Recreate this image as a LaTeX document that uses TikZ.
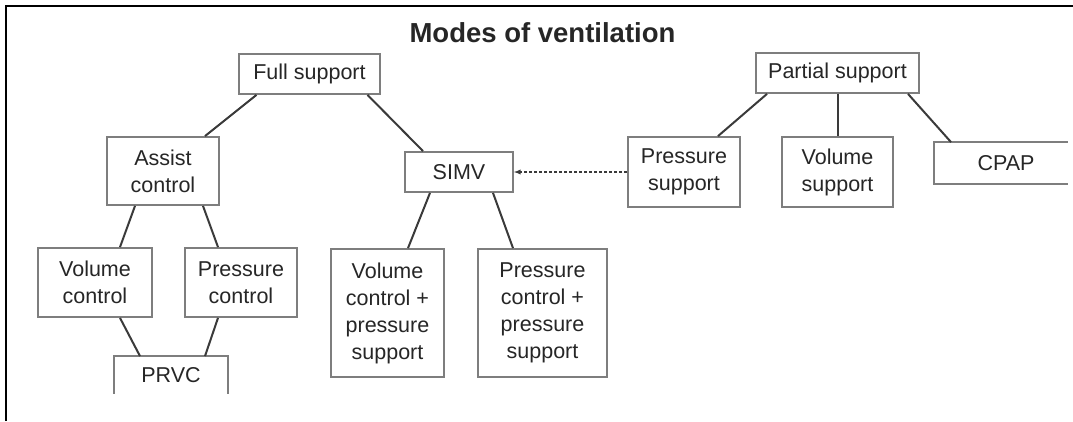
\documentclass[tikz,border=0pt]{standalone}
\usepackage{fontspec}
\setmainfont{Liberation Sans}
\usepackage{tikz}
\usetikzlibrary{calc}

\definecolor{boxgray}{HTML}{7E7E7E}
\definecolor{linkgray}{HTML}{3A3A3A}
\definecolor{inkgray}{HTML}{262626}

\tikzset{
  modebox/.style={draw=boxgray, line width=1.8pt, fill=white, align=center,
    inner sep=0pt, text=inkgray, font=\fontsize{21.5}{27}\selectfont},
  openbox/.style={modebox, draw=none},
  link/.style={draw=linkgray, line width=2pt},
}

\begin{document}
\begin{tikzpicture}[x=1pt, y=-1pt]
\useasboundingbox (0,0) rectangle (1073,421);
%frame and title
\draw [black, line width=2pt] (6,421) -- (6,6) -- (1073,6);
\node [anchor=base, text=inkgray, font=\fontsize{27.5}{30}\selectfont\bfseries] (title) at (542.5,42) {Modes of ventilation};

%full support side
\node [modebox, minimum width=141pt, minimum height=40pt] (full) at (309.5,74) {Full support};
\node [modebox, minimum width=112pt, minimum height=68pt] (assist) at (163,171) {Assist\\control};
\node [modebox, minimum width=108pt, minimum height=40pt] (simv) at (459,172) {SIMV};
\node [modebox, minimum width=114pt, minimum height=69pt] (vctl) at (95,282.5) {Volume\\control};
\node [modebox, minimum width=112pt, minimum height=69pt] (pctl) at (241,282.5) {Pressure\\control};
\node [openbox, minimum width=112pt, minimum height=36pt] (prvc) at (171,375) {PRVC};
\draw [draw=boxgray, line width=1.8pt] (prvc.south west) -- (prvc.north west) -- (prvc.north east) -- (prvc.south east);
\node [modebox, minimum width=113pt, minimum height=128pt] (vcps) at (387.5,313) {Volume\\control +\\pressure\\support};
\node [modebox, minimum width=129pt, minimum height=128pt] (pcps) at (542.5,313) {Pressure\\control +\\pressure\\support};

%partial support side
\node [modebox, minimum width=163pt, minimum height=40pt] (partial) at (837.5,73) {Partial support};
\node [modebox, minimum width=112pt, minimum height=70pt] (psup) at (684,172) {Pressure\\support};
\node [modebox, minimum width=111pt, minimum height=70pt] (vsup) at (837.5,172) {Volume\\support};
\node [openbox, minimum width=132pt, minimum height=40pt] (cpap) at (1001,163) {\hspace*{10pt}CPAP};
\draw [draw=boxgray, line width=1.8pt] (cpap.north east) -- (cpap.north west) -- (cpap.south west) -- (cpap.south east);

%the links
\draw [link] ([xshift=-53pt]full.south) -- ([xshift=42pt]assist.north);
\draw [link] ([xshift=58pt]full.south) -- ([xshift=-36pt]simv.north);
\draw [link] ([xshift=-28pt]assist.south) -- ([xshift=25pt]vctl.north);
\draw [link] ([xshift=40pt]assist.south) -- ([xshift=-23pt]pctl.north);
\draw [link] ([xshift=25pt]vctl.south) -- ([xshift=-31pt]prvc.north);
\draw [link] ([xshift=-23pt]pctl.south) -- ([xshift=34pt]prvc.north);
\draw [link] ([xshift=-29pt]simv.south) -- ([xshift=20.5pt]vcps.north);
\draw [link] ([xshift=34pt]simv.south) -- ([xshift=-29.5pt]pcps.north);
\draw [link] ([xshift=-70.5pt]partial.south) -- ([xshift=34pt]psup.north);
\draw [link] (partial.south) -- (vsup.north);
\draw [link] ([xshift=70.5pt]partial.south) -- ([xshift=-50pt]cpap.north);
%dashed arrow into SIMV
\draw [draw=linkgray, line width=1.3pt, dash pattern=on 3pt off 2pt, -latex] (psup.west) -- (simv.east);
\end{tikzpicture}
\end{document}
